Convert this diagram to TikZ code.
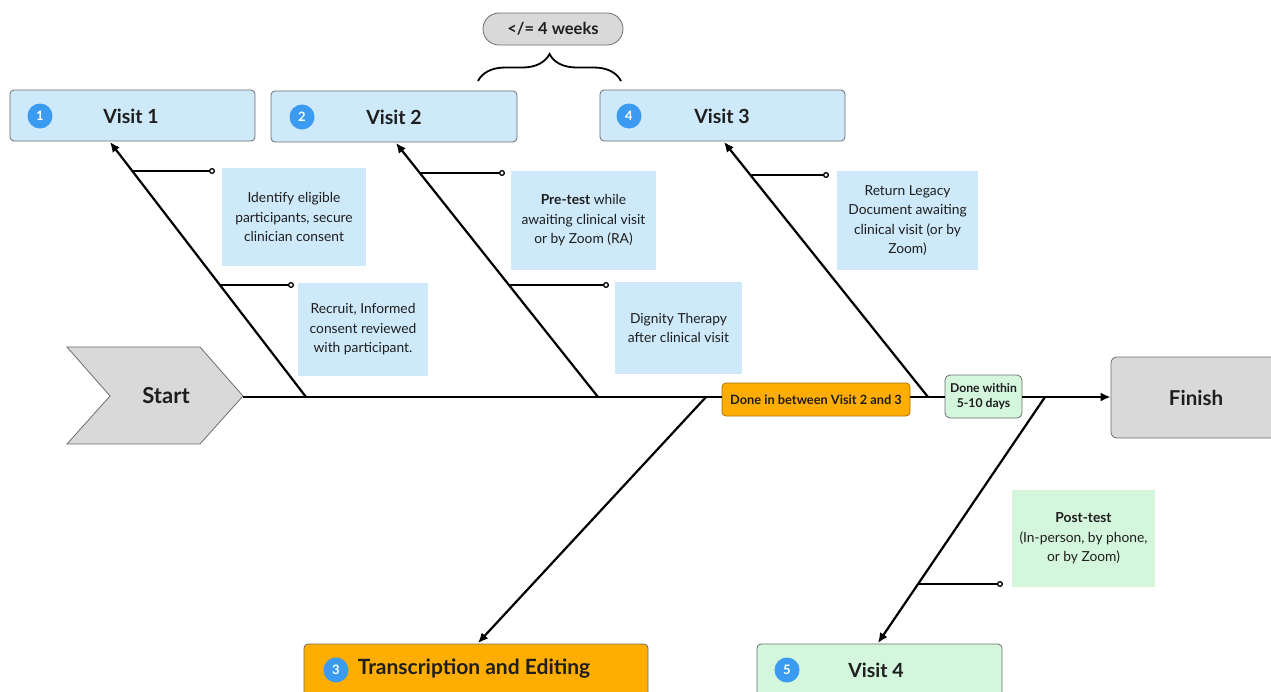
\documentclass[tikz,border=0pt]{standalone}
\usepackage{fontspec}
\setmainfont{Lato}
\usetikzlibrary{arrows.meta,decorations.pathreplacing}
\definecolor{ink}{HTML}{1E1E1E}
\definecolor{noteblue}{HTML}{CDE9FA}
\definecolor{numblue}{HTML}{3A9BF0}
\definecolor{boxline}{HTML}{6E6E6E}
\definecolor{greyfill}{HTML}{D9D9D9}
\definecolor{orangefill}{HTML}{FFAD00}
\definecolor{orangeline}{HTML}{A87400}
\definecolor{greenfill}{HTML}{D3F6DC}
\begin{document}
\begin{tikzpicture}[x=1pt,y=-1pt,
  visitbox/.style={draw=boxline, line width=0.8pt, rounded corners=4pt, minimum width=245pt, minimum height=51pt, inner sep=0pt},
  numdot/.style={circle, fill=numblue, text=white, font=\bfseries\fontsize{13}{13}\selectfont, minimum size=25pt, inner sep=0pt},
  titletext/.style={font=\bfseries\fontsize{19.5}{19.5}\selectfont, text=ink, inner sep=0pt},
  notebox/.style={fill=noteblue, inner sep=0pt, align=center, font=\fontsize{13.8}{19.5}\selectfont, text=ink},
  bone/.style={line width=2.2pt, -{Latex[length=10pt,width=9pt]}},
  spine/.style={line width=2.2pt},
  stub/.style={line width=1.3pt, -{Circle[length=6pt,width=6pt,fill=white]}},
]
\useasboundingbox (0,0) rectangle (1271,691);
\clip (0,0) rectangle (1271,691);
\fill[white] (0,0) rectangle (1271,691);

% top visit boxes
\node[visitbox, fill=noteblue] (v1) at (132.5,115.5) {};
\node[numdot] (c1) at (40,116) {1};
\node[titletext] (t1) at (131,116) {Visit 1};
\node[visitbox, fill=noteblue, minimum width=246pt] (v2) at (394,116.5) {};
\node[numdot] (c2) at (302,117) {2};
\node[titletext] (t2) at (394,117) {Visit 2};
\node[visitbox, fill=noteblue] (v3) at (722.5,115.5) {};
\node[numdot] (c3) at (629,116) {4};
\node[titletext] (t3) at (722,116) {Visit 3};

% weeks pill and brace
\node[draw=boxline, line width=0.8pt, fill=greyfill, rounded corners=16pt, minimum width=140pt, minimum height=32pt, inner sep=0pt, font=\bfseries\fontsize{16.5}{16.5}\selectfont, text=ink] (weeks) at (553,29) {</= 4 weeks};
\coordinate (brL) at (478,81);
\coordinate (brR) at (621,81);
\draw[line width=1.8pt, decorate, decoration={brace, amplitude=27pt}] (brL) -- (brR);

% start chevron
\draw[draw=boxline, line width=0.8pt, fill=greyfill] (67,347) -- (200,347) -- (243,396) -- (200,444) -- (67,444) -- (110,396) -- cycle;
\coordinate (starttip) at (243,397);
\node[titletext, font=\bfseries\fontsize{22}{22}\selectfont] (start) at (166,396) {Start};

% finish
\node[draw=boxline, line width=0.8pt, fill=greyfill, rounded corners=6pt, minimum width=168pt, minimum height=81pt, inner sep=0pt] (finish) at (1195,397.5) {};
\node[titletext, font=\bfseries\fontsize{20.5}{20.5}\selectfont] (finishtext) at (1196,398) {Finish};

% spine labels
\node[draw=orangeline, line width=0.8pt, fill=orangefill, rounded corners=4pt, minimum width=188pt, minimum height=33pt, inner sep=0pt, font=\bfseries\fontsize{12.8}{12.8}\selectfont, text=ink] (between) at (816,399.5) {Done in between Visit 2 and 3};
\node[draw=boxline, line width=0.8pt, fill=greenfill, rounded corners=5pt, minimum width=77pt, minimum height=43pt, inner sep=0pt, align=center, font=\bfseries\fontsize{12.2}{14.5}\selectfont, text=ink] (within) at (983.5,396.5) {Done within\\5-10 days};

% bottom boxes
\node[draw=boxline, line width=0.8pt, fill=orangefill, rounded corners=4pt, minimum width=344pt, minimum height=60pt, inner sep=0pt] (v5) at (476,674) {};
\node[numdot] (c5) at (336,670) {3};
\node[titletext, font=\bfseries\fontsize{21}{21}\selectfont] (t5) at (474,669) {Transcription and Editing};
\node[visitbox, fill=greenfill, minimum height=60pt] (v4) at (879.5,674) {};
\node[numdot] (c4) at (787,670) {5};
\node[titletext] (t4) at (876,670) {Visit 4};

% notes
\node[notebox, minimum width=144pt, minimum height=98pt] (n1) at (294,217) {Identify eligible\\participants, secure\\clinician consent};
\node[notebox, minimum width=130pt, minimum height=93pt] (n2) at (363,329.5) {Recruit, Informed\\consent reviewed\\with participant.};
\node[notebox, minimum width=145pt, minimum height=99pt] (n3) at (583.5,220.5) {\textbf{Pre-test} while\\awaiting clinical visit\\or by Zoom (RA)};
\node[notebox, minimum width=127pt, minimum height=92pt] (n4) at (678.5,328) {Dignity Therapy\\after clinical visit};
\node[notebox, minimum width=141pt, minimum height=99pt] (n5) at (907.5,220.5) {Return Legacy\\Document awaiting\\clinical visit (or by\\Zoom)};
\node[notebox, fill=greenfill, minimum width=143pt, minimum height=97pt] (n6) at (1083.5,538.5) {\textbf{Post-test}\\(In-person, by phone,\\or by Zoom)};

% spine (kept horizontal at the start tip's height)
\draw[spine] (starttip) -- (starttip -| between.west);
\draw[spine] (starttip -| between.east) -- (starttip -| within.west);
\draw[spine, -{Latex[length=10pt,width=9pt]}] (starttip -| within.east) -- (starttip -| finish.west);

% bone roots and tips
\coordinate (r1) at (306,397);  \coordinate (a1) at (110,142);
\coordinate (r2) at (598,397);  \coordinate (a2) at (396,143);
\coordinate (r3) at (928,397);  \coordinate (a3) at (724,142);
\coordinate (r5) at (706,397);  \coordinate (a5) at (478,643);
\coordinate (r4) at (1045,397); \coordinate (a4) at (878,643);
\draw[bone] (r1) -- (a1);
\draw[bone] (r2) -- (a2);
\draw[bone] (r3) -- (a3);
\draw[bone] (r5) -- (a5);
\draw[bone] (r4) -- (a4);

% stubs
\coordinate (s1) at (133,171);  \coordinate (e1) at (215,171);
\coordinate (s2) at (220,285);  \coordinate (e2) at (294,285);
\coordinate (s3) at (420.5,173); \coordinate (e3) at (505,173);
\coordinate (s4) at (509,285);  \coordinate (e4) at (609,285);
\coordinate (s5) at (750,175);  \coordinate (e5) at (829,175);
\coordinate (s6) at (918,584);  \coordinate (e6) at (1003,584);
\foreach \i in {1,...,6} \draw[stub] (s\i) -- (e\i);
\end{tikzpicture}
\end{document}
